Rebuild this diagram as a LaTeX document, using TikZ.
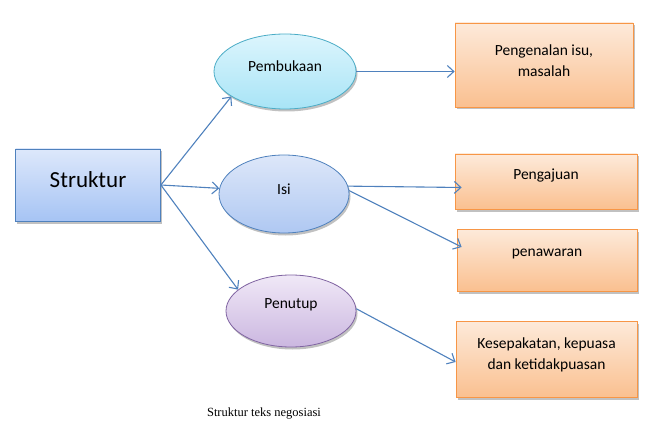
\documentclass[tikz,border=0pt]{standalone}
\usepackage{fontspec}
\setmainfont{Carlito}
\newfontfamily\capfont{Liberation Serif}
\usepackage{tikz}
\usetikzlibrary{positioning,arrows.meta,shapes.geometric,shadows}

\definecolor{linkblue}{HTML}{4F81BD}
\definecolor{rootTop}{HTML}{DDE8FB}
\definecolor{rootBot}{HTML}{A6C4F4}
\definecolor{openTop}{HTML}{DCF5FD}
\definecolor{openBot}{HTML}{A8E4F6}
\definecolor{openLine}{HTML}{4BACC6}
\definecolor{isiTop}{HTML}{DDE7F9}
\definecolor{isiBot}{HTML}{AFC8F2}
\definecolor{endTop}{HTML}{F0E8F7}
\definecolor{endBot}{HTML}{CBB7E0}
\definecolor{endLine}{HTML}{8064A2}
\definecolor{outTop}{HTML}{FDEADA}
\definecolor{outBot}{HTML}{FAC090}
\definecolor{outLine}{HTML}{F79646}

\tikzset{
  conn/.style={draw=linkblue, line width=1.1pt, -{Straight Barb[length=6.5pt,width=12pt]}},
  softshadow/.style={drop shadow={shadow xshift=1.5pt, shadow yshift=-2.5pt, opacity=0.35, fill=black!70}},
  rootbox/.style={rectangle, draw=linkblue, line width=0.8pt, top color=rootTop, bottom color=rootBot,
    softshadow, minimum width=145pt, minimum height=72pt, inner sep=0pt},
  part/.style={ellipse, line width=0.8pt, softshadow, inner sep=0pt},
  outbox/.style={rectangle, draw=outLine, line width=0.8pt, top color=outTop, bottom color=outBot,
    softshadow, minimum width=180pt, inner sep=0pt},
  lbl/.style={font=\fontsize{15.5}{21}\selectfont, align=center}
}

\begin{document}
\begin{tikzpicture}[x=1pt, y=-1pt]
\useasboundingbox (0,0) rectangle (660,430);
% root
\node[rootbox] (root) at (88,185) {};
\node[font=\fontsize{23}{26}\selectfont] (rootT) at (88,180) {Struktur};
% the three parts
\node[part, draw=openLine, top color=openTop, bottom color=openBot,
  minimum width=142pt, minimum height=75pt] (open) at (285,71.5) {};
\node[lbl] (openT) at (285,66) {Pembukaan};
\node[part, draw=linkblue, top color=isiTop, bottom color=isiBot,
  minimum width=130pt, minimum height=78pt] (isi) at (284,194) {};
\node[lbl] (isiT) at (284,189) {Isi};
\node[part, draw=endLine, top color=endTop, bottom color=endBot,
  minimum width=130pt, minimum height=72pt] (close) at (291,311) {};
\node[lbl] (closeT) at (291,305) {Penutup};
% outcome boxes
\node[outbox, minimum width=178pt, minimum height=84pt] (intro) at (544,65) {};
\node[lbl] (introT) at (544,61) {Pengenalan isu,\\masalah};
\node[outbox, minimum width=182pt, minimum height=55pt] (ask) at (546,181.5) {};
\node[lbl] (askT) at (546,176) {Pengajuan};
\node[outbox, minimum width=180pt, minimum height=62pt] (offer) at (547,260) {};
\node[lbl] (offerT) at (547,254) {penawaran};
\node[outbox, minimum width=181pt, minimum height=76pt] (deal) at (546.5,359) {};
\node[lbl] (dealT) at (546.5,355) {Kesepakatan, kepuasa\\dan ketidakpuasan};
% links
\draw[conn] (root.east) -- (open.205);
\draw[conn] (root.east) -- (isi.175);
\draw[conn] (root.east) -- (close.158);
\draw[conn] (open.east) -- (open.east -| intro.west);
\draw[conn] (isi.7) -- ([xshift=7pt,yshift=-6pt]ask.west);
\draw[conn] (isi.3) -- ([xshift=5pt,yshift=13pt]offer.west);
\draw[conn] (close.2) -- ([yshift=-3pt]deal.west);
% caption
\node[font=\capfont\fontsize{12.5}{15}\selectfont] (cap) at (264,414) {Struktur teks negosiasi};
\end{tikzpicture}
\end{document}
